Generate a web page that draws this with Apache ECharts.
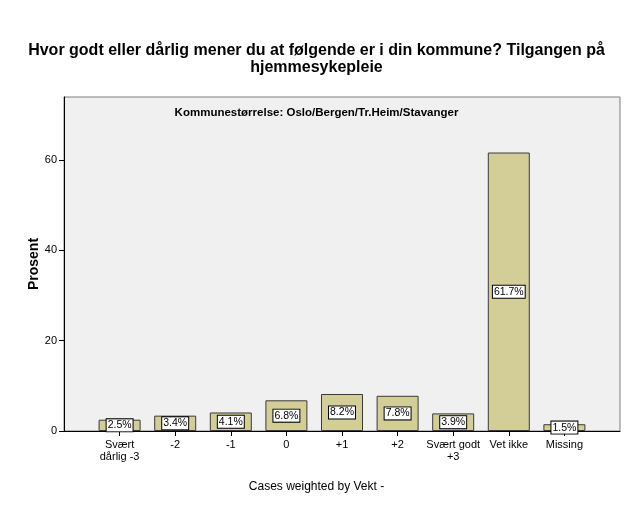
<!DOCTYPE html>
<html>
<head>
<meta charset="utf-8">
<script src="https://cdn.jsdelivr.net/npm/echarts@6/dist/echarts.min.js"></script>
<style>html,body{margin:0;padding:0;background:#fff;}#c{width:633px;height:508px;}</style>
</head>
<body>
<div id="c"></div>
<script>
var categories = ['Svært\ndårlig -3', '-2', '-1', '0', '+1', '+2', 'Svært godt\n+3', 'Vet ikke', 'Missing'];
var values = [2.5, 3.4, 4.1, 6.8, 8.2, 7.8, 3.9, 61.7, 1.5];
var yTicks = [0, 20, 40, 60];

var paddedCats = [''].concat(categories).concat(['']);
var paddedVals = [null].concat(values).concat([null]);
var F = 'Liberation Sans, Arial, sans-serif';

var chart = echarts.init(document.getElementById('c'));
chart.setOption({
  animation: false,
  backgroundColor: '#fff',
  title: [
    {
      text: 'Hvor godt eller dårlig mener du at følgende er i din kommune? Tilgangen på\nhjemmesykepleie',
      left: 'center', top: 37,
      textStyle: { fontFamily: F, fontSize: 16, fontWeight: 'bold', color: '#000', lineHeight: 17 }
    },
    {
      text: 'Kommunestørrelse: Oslo/Bergen/Tr.Heim/Stavanger',
      left: 'center', top: 102,
      textStyle: { fontFamily: F, fontSize: 11.5, fontWeight: 'bold', color: '#000' }
    },
    {
      text: 'Cases weighted by Vekt -',
      left: 'center', top: 476,
      textStyle: { fontFamily: F, fontSize: 12, fontWeight: 'normal', color: '#000' }
    }
  ],
  grid: {
    left: 64, right: 13, top: 97, bottom: 77,
    show: true, backgroundColor: '#f0f0f0', borderColor: '#7f7f7f', borderWidth: 1
  },
  xAxis: {
    type: 'category',
    data: paddedCats,
    boundaryGap: false,
    axisLine: { lineStyle: { color: '#000', width: 1 } },
    axisTick: { length: 5, lineStyle: { color: '#000' }, interval: function (i) { return i > 0 && i < paddedCats.length - 1; } },
    axisLabel: { interval: 0, fontFamily: F, fontSize: 11, color: '#000', lineHeight: 12, margin: 8 },
    splitLine: { show: false }
  },
  yAxis: {
    type: 'value',
    min: 0, max: 74,
    name: 'Prosent',
    nameLocation: 'middle',
    nameGap: 23,
    nameMoveOverlap: false,
    nameTextStyle: { fontFamily: F, fontSize: 14, fontWeight: 'bold', color: '#000' },
    axisLine: { show: true, lineStyle: { color: '#000' } },
    axisTick: { show: true, length: 5, lineStyle: { color: '#000' }, customValues: yTicks },
    axisLabel: { fontFamily: F, fontSize: 11, color: '#000', margin: 7, customValues: yTicks },
    splitLine: { show: false }
  },
  series: [{
    type: 'bar',
    data: paddedVals,
    barWidth: 42,
    itemStyle: { color: '#d3ce98', borderColor: '#3a3a3a', borderWidth: 1 },
    label: {
      show: true,
      position: 'inside',
      formatter: function (p) { return p.value.toFixed(1) + '%'; },
      fontFamily: F, fontSize: 10.5, color: '#000', lineHeight: 11,
      backgroundColor: '#fff', borderColor: '#000', borderWidth: 1,
      padding: [1, 1, 0, 1]
    }
  }]
});
</script>
</body>
</html>
